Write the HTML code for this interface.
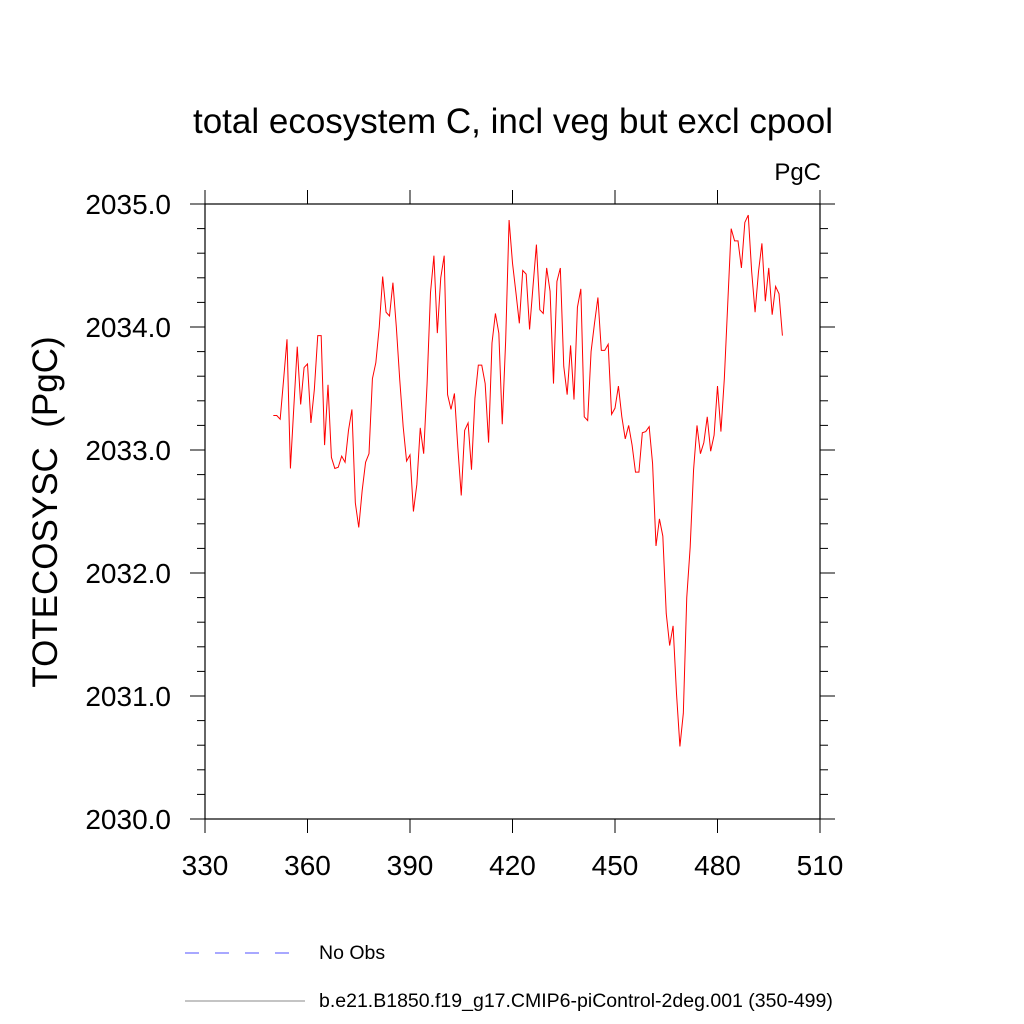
<!DOCTYPE html>
<html><head><meta charset="utf-8"><style>
html,body{margin:0;padding:0;background:#fff;}
svg{display:block;font-family:"Liberation Sans",sans-serif;}
</style></head><body>
<svg id="chart" width="1024" height="1024" viewBox="0 0 1024 1024">
<text x="513" y="133" font-size="35" text-anchor="middle">total ecosystem C, incl veg but excl cpool</text>
<text x="821" y="180" font-size="24" text-anchor="end">PgC</text>
<text transform="translate(57,512) rotate(-90)" font-size="35" text-anchor="middle">TOTECOSYSC&#160;&#160;(PgC)</text>
<g id="axes"></g>
<g id="series"></g>
<g>
<line x1="185" y1="953" x2="305" y2="953" stroke="#5050ff" stroke-width="1" stroke-dasharray="14,16"/>
<text x="319" y="959" font-size="19.5">No Obs</text>
<line x1="185" y1="1001" x2="305" y2="1001" stroke="#888" stroke-width="1"/>
<text x="319" y="1007" font-size="19.5">b.e21.B1850.f19_g17.CMIP6-piControl-2deg.001 (350-499)</text>
</g>
</svg>
<script>
const startYear = 350;
const values = [
2033.28,2033.28,2033.25,2033.57,2033.90,2032.85,2033.35,2033.84,2033.37,2033.67,
2033.70,2033.22,2033.49,2033.93,2033.93,2033.04,2033.53,2032.94,2032.85,2032.86,
2032.95,2032.90,2033.16,2033.33,2032.57,2032.37,2032.67,2032.90,2032.97,2033.58,
2033.71,2034.00,2034.41,2034.12,2034.09,2034.36,2034.00,2033.57,2033.19,2032.91,
2032.96,2032.50,2032.72,2033.18,2032.97,2033.54,2034.28,2034.58,2033.95,2034.40,
2034.58,2033.45,2033.33,2033.46,2033.02,2032.63,2033.16,2033.22,2032.84,2033.42,
2033.69,2033.69,2033.54,2033.06,2033.87,2034.11,2033.95,2033.21,2033.89,2034.87,
2034.52,2034.28,2034.03,2034.46,2034.43,2033.98,2034.33,2034.67,2034.14,2034.11,
2034.48,2034.29,2033.54,2034.37,2034.48,2033.68,2033.45,2033.85,2033.41,2034.16,
2034.31,2033.27,2033.24,2033.80,2034.03,2034.24,2033.81,2033.81,2033.86,2033.29,
2033.34,2033.52,2033.27,2033.09,2033.20,2033.04,2032.82,2032.82,2033.14,2033.15,
2033.19,2032.89,2032.22,2032.44,2032.30,2031.67,2031.41,2031.57,2031.02,2030.59,
2030.86,2031.80,2032.21,2032.84,2033.20,2032.97,2033.06,2033.27,2032.99,2033.12,
2033.52,2033.15,2033.58,2034.19,2034.80,2034.70,2034.70,2034.48,2034.85,2034.91,
2034.45,2034.12,2034.45,2034.68,2034.21,2034.48,2034.10,2034.33,2034.27,2033.93
];
const xTicks = [330,360,390,420,450,480,510];
const yTicks = [2030.0,2031.0,2032.0,2033.0,2034.0,2035.0];
const xMin=330,xMax=510,yMin=2030,yMax=2035;
const L=205,R=820,T=204,B=819;
function sx(v){return L+(v-xMin)/(xMax-xMin)*(R-L);}
function sy(v){return B-(v-yMin)/(yMax-yMin)*(B-T);}
const NS="http://www.w3.org/2000/svg";
const axes=document.getElementById('axes');
function line(x1,y1,x2,y2,name,w){
  const l=document.createElementNS(NS,'line');
  l.setAttribute('x1',x1);l.setAttribute('y1',y1);l.setAttribute('x2',x2);l.setAttribute('y2',y2);
  l.setAttribute('stroke','#000');l.setAttribute('stroke-width',w||1);
  
  
  axes.appendChild(l);return l;
}
const frame=document.createElementNS(NS,'rect');
frame.setAttribute('x',L);frame.setAttribute('y',T);frame.setAttribute('width',R-L);frame.setAttribute('height',B-T);
frame.setAttribute('fill','none');frame.setAttribute('stroke','#000');frame.setAttribute('stroke-width','1.2');


axes.appendChild(frame);
xTicks.forEach(t=>{
  const x=sx(t);
  line(x,B,x,B+14,'x-tick');
  line(x,T,x,T-14,'x-tick-top');
  const tx=document.createElementNS(NS,'text');
  tx.setAttribute('x',x);tx.setAttribute('y',875);tx.setAttribute('font-size','28');tx.setAttribute('text-anchor','middle');
  tx.textContent=t;
  
  
  axes.appendChild(tx);
});
for(let v=yMin; v<=yMax+1e-9; v+=0.2){
  const y=sy(v);
  const major=Math.abs(v-Math.round(v))<1e-6;
  const len=major?15:8;
  line(L-len,y,L,y,major?'y-tick':'y-minor-tick');
  line(R,y,R+len,y,major?'y-tick-right':'y-minor-tick-right');
}
yTicks.forEach(t=>{
  const tx=document.createElementNS(NS,'text');
  tx.setAttribute('x',171);tx.setAttribute('y',sy(t)+10);tx.setAttribute('font-size','28');tx.setAttribute('text-anchor','end');
  tx.textContent=t.toFixed(1);
  
  
  axes.appendChild(tx);
});
const pts=values.map((v,i)=>sx(startYear+i).toFixed(2)+','+sy(v).toFixed(2)).join(' ');
const pl=document.createElementNS(NS,'polyline');
pl.setAttribute('points',pts);pl.setAttribute('fill','none');pl.setAttribute('stroke','#ff0000');pl.setAttribute('stroke-width','1');


document.getElementById('series').appendChild(pl);
</script>
</body></html>
